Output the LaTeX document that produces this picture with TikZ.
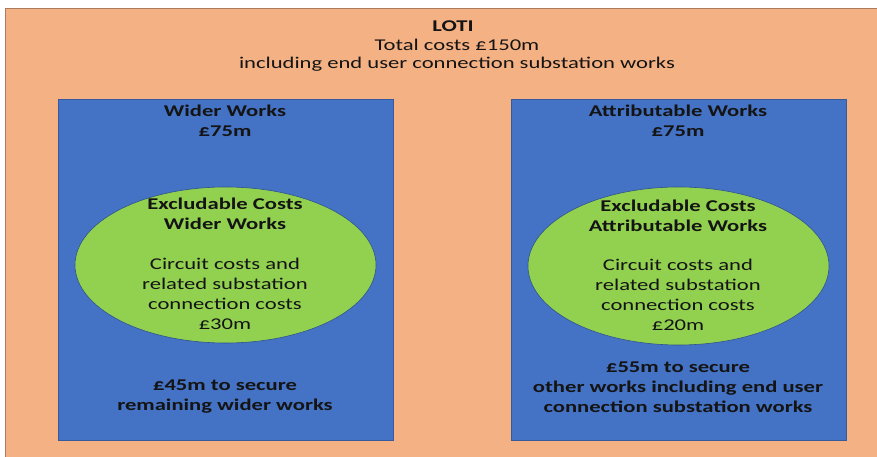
\documentclass[tikz,border=0pt]{standalone}
\usepackage{fontspec}
\setmainfont{Carlito}[FakeStretch=1.375]
\usetikzlibrary{shapes.geometric}
\definecolor{loti}{HTML}{F4B183}
\definecolor{wblue}{HTML}{4472C4}
\definecolor{egreen}{HTML}{92D050}
\definecolor{eborder}{HTML}{2F528F}
\definecolor{txt}{HTML}{141414}
\tikzset{
  txtstyle/.style={font=\fontsize{16.5}{20}\selectfont, text=txt, align=center, inner sep=0pt},
  boldtxt/.style={txtstyle, font=\fontsize{16.5}{20}\selectfont\bfseries},
  workbox/.style={draw=wblue!80!black, line width=0.6pt, fill=wblue},
  excl/.style={draw=eborder, line width=0.6pt, fill=egreen, ellipse},
}
\begin{document}
\begin{tikzpicture}[x=1bp,y=-1bp]
\useasboundingbox (0,0) rectangle (877,457);
\fill[white] (0,0) rectangle (877,457);
% outer LOTI area
\draw[fill=loti, draw=loti!70!black, line width=0.6pt] (5,8) rectangle (880,460);
\node[boldtxt] (loti) at (453,26) {LOTI};
\node[txtstyle] (total) at (457,45) {Total costs £150m};
\node[txtstyle] (incl) at (457,64) {including end user connection substation works};
% left box
\draw[workbox] (58,99) rectangle (393,440);
\node[boldtxt] (ww) at (225,111) {Wider Works};
\node[boldtxt] (ww75) at (225,131) {£75m};
\draw[excl] (225.5,265) ellipse [x radius=150.5, y radius=78];
\node[boldtxt] (wex) at (225,214) {Excludable Costs\\Wider Works};
\node[txtstyle] (wcirc) at (225,294) {Circuit costs and\\related substation\\connection costs\\£30m};
\node[boldtxt] (wrem) at (225,397) {£45m to secure\\remaining wider works};
% right box
\draw[workbox] (511,99) rectangle (846,440);
\node[boldtxt] (aw) at (678,111) {Attributable Works};
\node[boldtxt] (aw75) at (678,131) {£75m};
\draw[excl] (678.5,266) ellipse [x radius=150.5, y radius=79];
\node[boldtxt] (aex) at (678,216) {Excludable Costs\\Attributable Works};
\node[txtstyle] (acirc) at (678,295) {Circuit costs and\\related substation\\connection costs\\£20m};
\node[boldtxt] (arem) at (678,387) {£55m to secure\\other works including end user\\connection substation works};
\end{tikzpicture}
\end{document}
